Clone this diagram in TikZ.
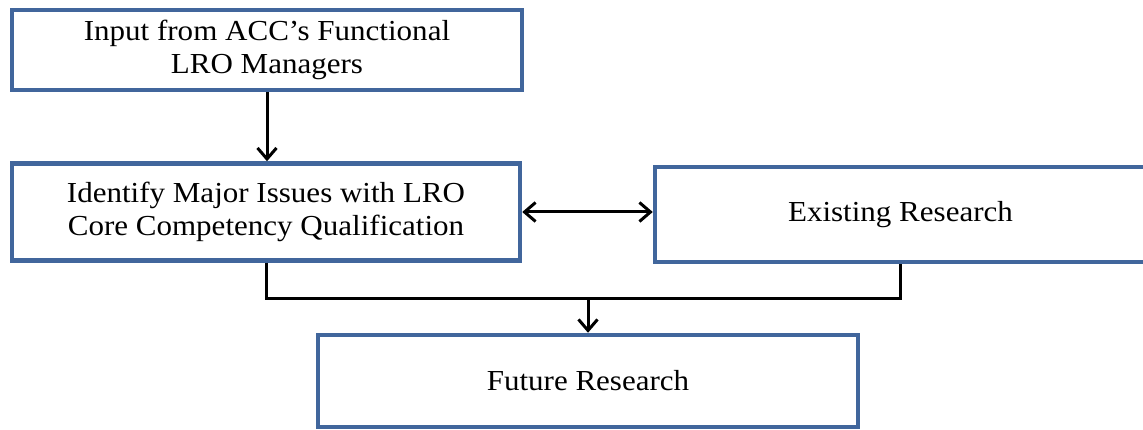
\documentclass[tikz,border=0pt]{standalone}
\usepackage{fontspec}
\setmainfont[FakeStretch=1.07]{Liberation Serif}
\usetikzlibrary{arrows.meta}
\definecolor{boxblue}{HTML}{41669C}
\begin{document}
\begin{tikzpicture}[x=1pt,y=-1pt,
  flowbox/.style={draw=boxblue,line width=4.5pt,fill=white,inner sep=0pt,align=center,
    font=\fontsize{29}{33}\selectfont},
  barb/.tip={Straight Barb[length=11pt,width=19pt,line width=3pt]},
  conn/.style={draw=black,line width=3pt},
  tip/.style={-barb}]
\useasboundingbox (0,0) rectangle (1143,430);
\clip (0,0) rectangle (1143,430);
\fill[white] (0,0) rectangle (1143,430);
\node[flowbox,minimum width=510pt,minimum height=80pt] (b1) at (267,50) {Input from ACC’s Functional\\LRO Managers};
\node[flowbox,minimum width=508pt,minimum height=97pt] (b2) at (266,212) {Identify Major Issues with LRO\\Core Competency Qualification};
\node[flowbox,minimum width=491pt,minimum height=95pt] (ex) at (900.5,214.5) {Existing Research};
\node[flowbox,minimum width=540pt,minimum height=92pt] (fu) at (588,381) {Future Research};
\coordinate (j) at (588,299);
\draw[conn,tip] (b1.south) -- (b2.north -| b1.south);
\draw[conn,barb-barb] (b2.east |- 0,212) -- (ex.west |- 0,212);
\draw[conn] (b2.south) |- (j) -| (ex.south);
\draw[conn,tip] (j) -- (fu.north);
\end{tikzpicture}
\end{document}
